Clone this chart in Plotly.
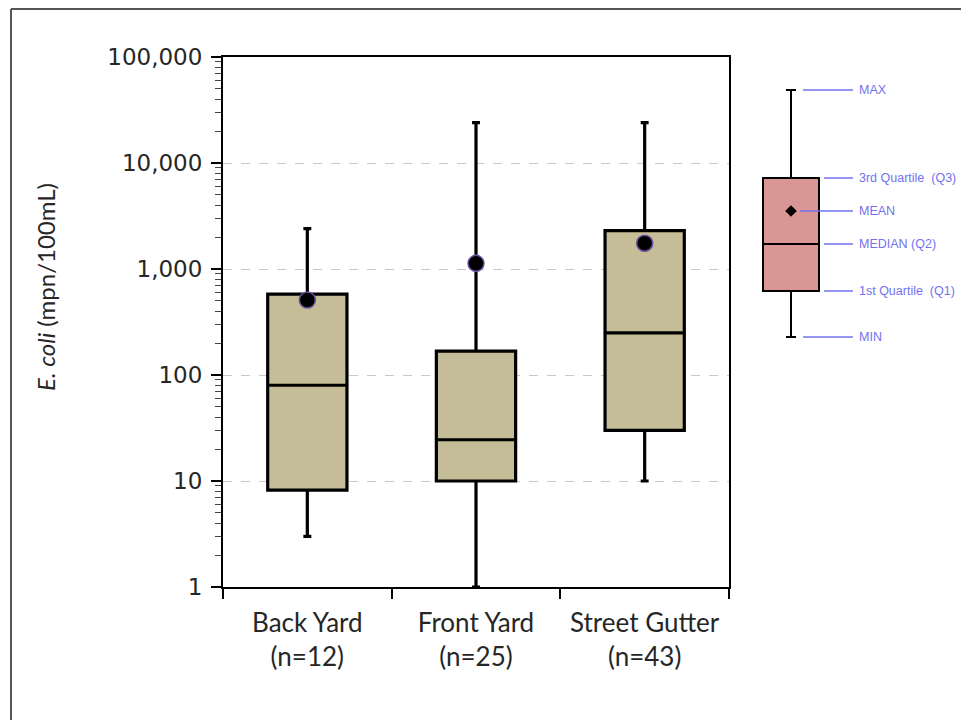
import plotly.graph_objects as go

# ---- data ----
categories = ["Back Yard", "Front Yard", "Street Gutter"]
n_counts = [12, 25, 43]
mins = [3, 1, 10]
q1s = [8.2, 10, 30]
medians = [80, 24.5, 250]
q3s = [580, 168, 2300]
maxs = [2400, 24000, 24000]
means = [510, 1130, 1750]

ytick_vals = [1, 10, 100, 1000, 10000, 100000]
ytick_text = ["1", "10", "100", "1,000", "10,000", "100,000"]

# illustrative key box (arbitrary units)
key_labels = ["MAX", "3rd Quartile  (Q3)", "MEAN", "MEDIAN (Q2)", "1st Quartile  (Q1)", "MIN"]
key_values = [247, 159, 126, 93, 46, 0]
key_line_start = [12, 33, 9, 33, 33, 12]

# page has an 8px body margin on every side: keep the figure inside the window
OFF = 8
W, H = 969 - 2 * OFF, 728 - 2 * OFF
PL, PR, PT, PB = 223, 729, 57, 587          # plot area in window pixels
ML, MT = PL - OFF, PT - OFF
MR = 1
MB = H - (PB - OFF)
PW = W - ML - MR
PH = H - MT - MB

def px_x(p):
    return (p - OFF - ML) / PW

def px_y(p):
    return (H - MB - (p - OFF)) / PH

xpos = list(range(len(categories)))
fig = go.Figure()

for i, c in enumerate(categories):
    fig.add_trace(go.Box(
        x=[xpos[i]], q1=[q1s[i]], median=[medians[i]], q3=[q3s[i]],
        lowerfence=[mins[i]], upperfence=[maxs[i]],
        width=0.47, whiskerwidth=0.1,
        fillcolor="#c4bd97", line=dict(color="black", width=3.2),
        boxpoints=False, showlegend=False, hoverinfo="skip",
        xaxis="x", yaxis="y",
    ))

fig.add_trace(go.Scatter(
    x=xpos, y=means, mode="markers",
    marker=dict(symbol="circle", size=16, color="black",
                line=dict(color="#6b4fa0", width=1.5)),
    showlegend=False, hoverinfo="skip", xaxis="x", yaxis="y",
))

# key box
kv = dict(zip(key_labels, key_values))
fig.add_trace(go.Box(
    x=[41], q1=[kv["1st Quartile  (Q1)"]], median=[kv["MEDIAN (Q2)"]],
    q3=[kv["3rd Quartile  (Q3)"]], lowerfence=[kv["MIN"]], upperfence=[kv["MAX"]],
    width=56, whiskerwidth=0.18,
    fillcolor="#d99694", line=dict(color="black", width=2),
    boxpoints=False, showlegend=False, hoverinfo="skip",
    xaxis="x2", yaxis="y2",
))
fig.add_trace(go.Scatter(
    x=[41], y=[kv["MEAN"]], mode="markers",
    marker=dict(symbol="diamond", size=9, color="black"),
    showlegend=False, hoverinfo="skip", xaxis="x2", yaxis="y2",
))

shapes = []
annotations = []
blue = "#7272f0"
for lab, val, xs in zip(key_labels, key_values, key_line_start):
    shapes.append(dict(type="line", xref="x2", yref="y2", x0=xs + 41, x1=103,
                       y0=val, y1=val, line=dict(color=blue, width=1.5)))
    annotations.append(dict(xref="x2", yref="y2", x=107, y=val, text=lab,
                            showarrow=False, xanchor="left", yanchor="middle",
                            font=dict(family="Liberation Sans Narrow, Arial Narrow, Liberation Sans",
                                      size=12.5, color=blue)))

# outer frame: only its left and top edges fall inside the picture
frame = dict(color="#555555", width=2)
shapes.append(dict(type="line", xref="paper", yref="paper",
                   x0=px_x(11), x1=px_x(11), y0=px_y(760), y1=px_y(9), line=frame))
shapes.append(dict(type="line", xref="paper", yref="paper",
                   x0=px_x(11), x1=px_x(1000), y0=px_y(9), y1=px_y(9), line=frame))

# y-axis title
annotations.append(dict(xref="paper", yref="paper", x=px_x(45), y=px_y(287),
                        text="<i>E. coli</i> (mpn/100mL)", textangle=-90,
                        showarrow=False, xanchor="center", yanchor="middle",
                        font=dict(family="Lato, Open Sans", size=24, color="#262626")))

xt_text = [f"{c}<br>(n={n})" for c, n in zip(categories, n_counts)]

fig.update_layout(
    width=W, height=H,
    margin=dict(l=ML, r=MR, t=MT, b=MB),
    paper_bgcolor="white", plot_bgcolor="white",
    shapes=shapes, annotations=annotations,
    xaxis=dict(domain=[0, px_x(PR)], range=[-0.5, 2.5],
               tickvals=xpos, ticktext=xt_text,
               ticks="outside", ticklen=12, tickcolor="rgba(0,0,0,0)",
               tickfont=dict(family="Lato, Open Sans", size=26, color="#262626"),
               showline=True, mirror=True, linecolor="black", linewidth=2,
               showgrid=False, zeroline=False,
               minor=dict(tickvals=[-0.5, 0.5, 1.5, 2.5], ticks="outside",
                          ticklen=10, tickcolor="black", tickwidth=2, showgrid=False)),
    yaxis=dict(type="log", range=[0, 5],
               tickvals=ytick_vals, ticktext=ytick_text,
               ticks="outside", ticklen=10, tickwidth=2, tickcolor="black",
               ticklabelstandoff=4,
               tickfont=dict(family="DejaVu Sans", size=23, color="#262626"),
               showline=True, mirror=True, linecolor="black", linewidth=2,
               showgrid=True, gridcolor="#c8c8c8", griddash="dash", gridwidth=1,
               zeroline=False,
               minor=dict(ticks="outside", ticklen=6, tickwidth=1,
                          tickcolor="#444444", dtick="D1", showgrid=False)),
    xaxis2=dict(domain=[px_x(750), px_x(960)], range=[0, 210], anchor="y2",
                visible=False, fixedrange=True),
    yaxis2=dict(domain=[px_y(350), px_y(80)], range=[-13, 257], anchor="x2",
                visible=False, fixedrange=True),
)

fig.write_html("out.html")
